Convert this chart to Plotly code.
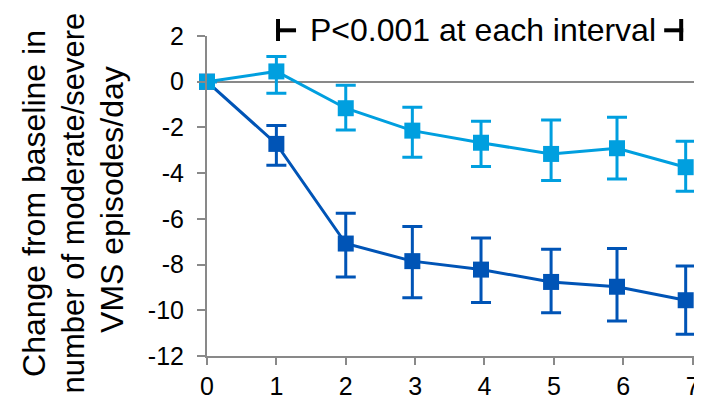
import plotly.graph_objects as go

weeks = [0, 1, 2, 2.96, 3.95, 4.96, 5.91, 6.9]
tick_vals = [0, 1, 2, 3, 4, 5, 6, 7]
y_tick_vals = [2, 0, -2, -4, -6, -8, -10, -12]
y_tick_text = ["2", "0", "-2", "-4", "-6", "-8", "-10", "-12"]
y_title_lines = ["Change from baseline in", "number of moderate/severe", "VMS episodes/day"]

light_mean = [0, 0.45, -1.16, -2.14, -2.67, -3.16, -2.91, -3.74]
light_upper = [0, 1.10, -0.15, -1.12, -1.73, -1.67, -1.56, -2.60]
light_lower = [0, -0.51, -2.11, -3.30, -3.71, -4.32, -4.26, -4.79]

dark_mean = [0, -2.72, -7.08, -7.85, -8.22, -8.76, -8.97, -9.56]
dark_upper = [0, -1.92, -5.75, -6.33, -6.84, -7.33, -7.30, -8.06]
dark_lower = [0, -3.66, -8.54, -9.45, -9.66, -10.11, -10.47, -11.05]

LIGHT = "#009FDF"
DARK = "#0054B6"
GRAY = "#898989"
FONT = "Liberation Sans, Arial, sans-serif"

def err(mean, upper, lower):
    plus = [u - m for u, m in zip(upper, mean)]
    minus = [m - l for m, l in zip(mean, lower)]
    return plus, minus

fig = go.Figure()
for mean, up, lo, col in [(dark_mean, dark_upper, dark_lower, DARK),
                          (light_mean, light_upper, light_lower, LIGHT)]:
    p, m = err(mean, up, lo)
    fig.add_trace(go.Scatter(
        x=weeks, y=mean, mode="lines+markers",
        line=dict(color=col, width=3),
        marker=dict(symbol="square", size=16, color=col),
        error_y=dict(type="data", symmetric=False, array=p, arrayminus=m,
                     color=col, thickness=3, width=10),
        showlegend=False, cliponaxis=False,
    ))

# page body has an 8px margin; figure is sized to fit the remaining window
OFF = 8
FIG_W, FIG_H = 702 - OFF, 401 - OFF
L_ABS, T_ABS, B_ABS = 207, 36, 356
W_PLOT = 486.8
H_PLOT = B_ABS - T_ABS

fig.update_layout(
    template="none",
    width=FIG_W, height=FIG_H,
    margin=dict(l=L_ABS - OFF, r=FIG_W - (L_ABS - OFF) - W_PLOT,
                t=T_ABS - OFF, b=FIG_H - (B_ABS - OFF), pad=0),
    paper_bgcolor="white", plot_bgcolor="white",
    font=dict(family=FONT, size=25, color="black"),
    xaxis=dict(range=[0, 7.02], tickvals=tick_vals, showgrid=False, zeroline=False,
               showline=True, linecolor=GRAY, linewidth=2, ticks="outside",
               ticklen=7, tickwidth=2, tickcolor=GRAY, ticklabelstandoff=0,
               automargin=False),
    yaxis=dict(range=[-12, 2], tickvals=y_tick_vals, ticktext=y_tick_text,
               showgrid=False, zeroline=True,
               zerolinecolor=GRAY, zerolinewidth=2,
               showline=True, linecolor=GRAY, linewidth=2, ticks="outside",
               ticklen=8, tickwidth=2, tickcolor=GRAY, ticklabelstandoff=8,
               automargin=False),
)

def px_x(px):
    return (px - L_ABS) / W_PLOT

def px_y(py):
    return (B_ABS - py) / H_PLOT

for line_text, cx, cy, fs in zip(y_title_lines, [34, 73.5, 112], [203, 203, 199], [32, 31, 32]):
    fig.add_annotation(
        text=line_text,
        xref="paper", yref="paper", x=px_x(cx), y=px_y(cy),
        xanchor="center", yanchor="middle", textangle=-90, showarrow=False,
        font=dict(size=fs, family=FONT, color="black"),
    )

fig.add_annotation(
    text="P<0.001 at each interval",
    xref="paper", yref="paper", x=px_x(483), y=px_y(30),
    xanchor="center", yanchor="middle", showarrow=False,
    font=dict(size=32, family=FONT, color="black"),
)

for vx, hx0, hx1 in [(278, 276, 296), (681, 664, 683)]:
    fig.add_shape(type="line", xref="paper", yref="paper",
                  x0=px_x(vx), x1=px_x(vx), y0=px_y(19), y1=px_y(41),
                  line=dict(color="black", width=4))
    fig.add_shape(type="line", xref="paper", yref="paper",
                  x0=px_x(hx0), x1=px_x(hx1), y0=px_y(30.3), y1=px_y(30.3),
                  line=dict(color="black", width=4))

fig.write_html("out.html")
